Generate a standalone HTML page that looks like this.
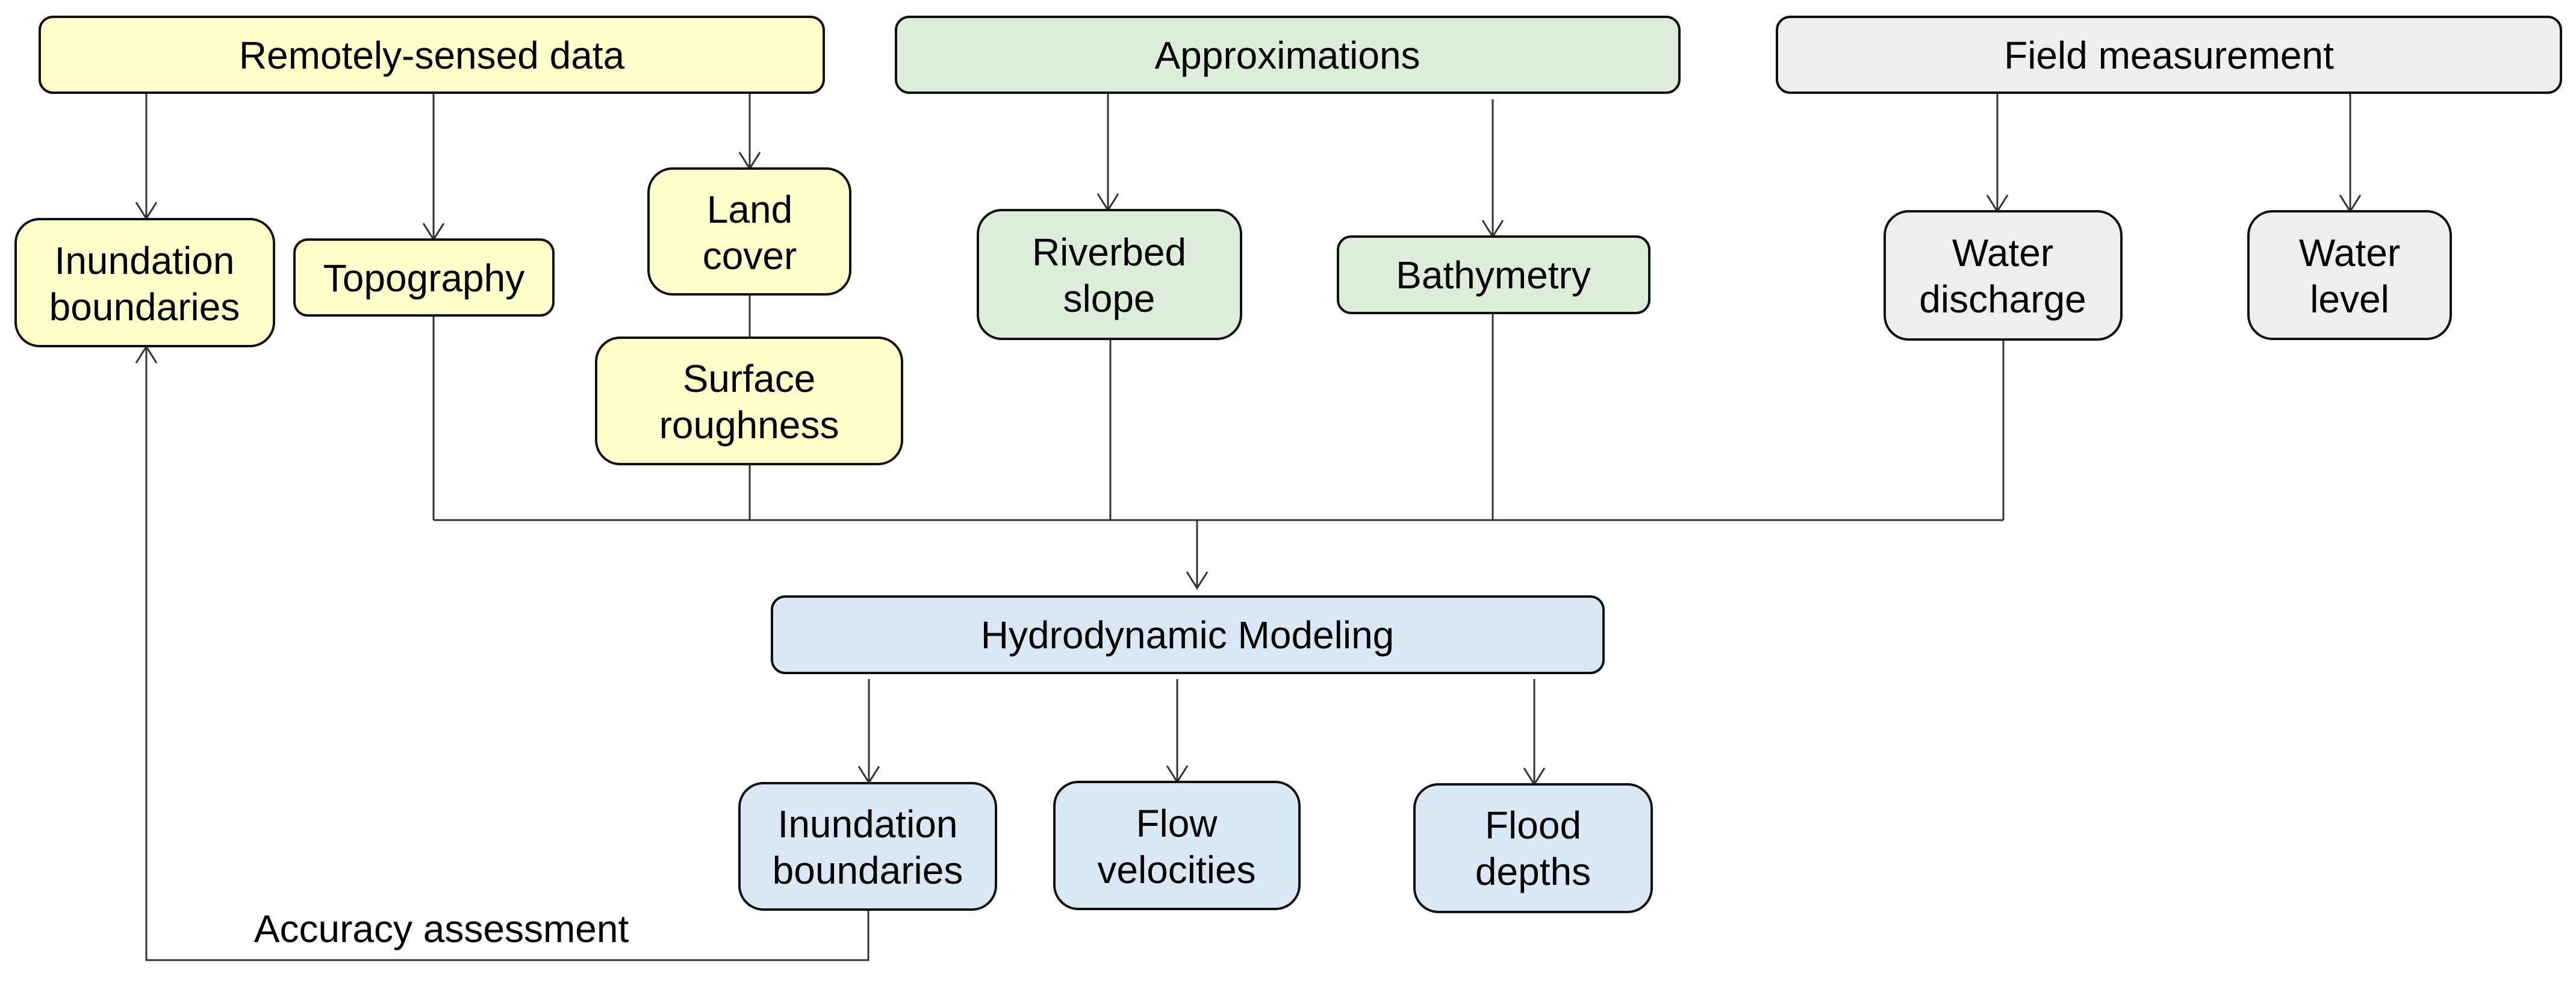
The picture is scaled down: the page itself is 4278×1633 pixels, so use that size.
<!DOCTYPE html>
<html><head><meta charset="utf-8">
<style>
html,body{margin:0;padding:0;background:#fff;}
svg{display:block;}
text{font-family:"Liberation Sans",Arial,sans-serif;font-size:64px;fill:#000;text-anchor:middle;}
</style></head>
<body>
<svg width="4278" height="1633" viewBox="0 0 4278 1633" xmlns="http://www.w3.org/2000/svg">
<defs>
<marker id="a" viewBox="0 0 40 40" refX="20" refY="38" markerWidth="40" markerHeight="40" markerUnits="userSpaceOnUse" orient="auto-start-reverse">
</marker>
</defs>
<g stroke="#333" stroke-width="3" fill="none">
<!-- top connectors -->
<line x1="243" y1="154" x2="243" y2="363"/>
<line x1="720" y1="154" x2="720" y2="398"/>
<line x1="1245" y1="154" x2="1245" y2="280"/>
<line x1="1840" y1="154" x2="1840" y2="349"/>
<line x1="2479" y1="165" x2="2479" y2="393"/>
<line x1="3317" y1="154" x2="3317" y2="351"/>
<line x1="3903" y1="154" x2="3903" y2="351"/>
<line x1="1245" y1="489" x2="1245" y2="561"/>
<!-- bus -->
<line x1="720" y1="524" x2="720" y2="864"/>
<line x1="1245" y1="771" x2="1245" y2="864"/>
<line x1="1844" y1="563" x2="1844" y2="864"/>
<line x1="2479" y1="520" x2="2479" y2="864"/>
<line x1="3327" y1="564" x2="3327" y2="864"/>
<line x1="720" y1="864" x2="3327" y2="864"/>
<line x1="1988" y1="864" x2="1988" y2="977"/>
<!-- lower -->
<line x1="1443" y1="1128" x2="1443" y2="1300"/>
<line x1="1955" y1="1128" x2="1955" y2="1299"/>
<line x1="2548" y1="1128" x2="2548" y2="1303"/>
<polyline points="1442,1511 1442,1595 243,1595 243,576"/>
<!-- arrowheads -->
<polyline points="226,336 243,363 260,336"/>
<polyline points="703,371 720,398 737,371"/>
<polyline points="1228,253 1245,280 1262,253"/>
<polyline points="1823,322 1840,349 1857,322"/>
<polyline points="2462,366 2479,393 2496,366"/>
<polyline points="3300,324 3317,351 3334,324"/>
<polyline points="3886,324 3903,351 3920,324"/>
<polyline points="1971,950 1988,977 2005,950"/>
<polyline points="1426,1273 1443,1300 1460,1273"/>
<polyline points="1938,1272 1955,1299 1972,1272"/>
<polyline points="2531,1276 2548,1303 2565,1276"/>
<polyline points="226,603 243,576 260,603"/>
</g>
<g stroke="#111" stroke-width="4">
<rect x="66" y="28" width="1302" height="126" rx="22" fill="#FFFFCC"/>
<rect x="1488" y="28" width="1301" height="126" rx="22" fill="#DDEEDA"/>
<rect x="2951" y="28" width="1302" height="126" rx="22" fill="#EEEEEE"/>
<rect x="26" y="364" width="429" height="211" rx="40" fill="#FFFFCC"/>
<rect x="489" y="398" width="430" height="126" rx="22" fill="#FFFFCC"/>
<rect x="1077" y="280" width="335" height="209" rx="40" fill="#FFFFCC"/>
<rect x="990" y="561" width="508" height="210" rx="40" fill="#FFFFCC"/>
<rect x="1624" y="349" width="437" height="214" rx="40" fill="#DDEEDA"/>
<rect x="2222" y="393" width="517" height="127" rx="22" fill="#DDEEDA"/>
<rect x="3130" y="351" width="393" height="213" rx="40" fill="#EEEEEE"/>
<rect x="3734" y="351" width="336" height="212" rx="40" fill="#EEEEEE"/>
<rect x="1282" y="991" width="1381" height="127" rx="22" fill="#DAE8F5"/>
<rect x="1228" y="1301" width="426" height="210" rx="40" fill="#DAE8F5"/>
<rect x="1751" y="1299" width="407" height="211" rx="40" fill="#DAE8F5"/>
<rect x="2349" y="1303" width="394" height="212" rx="40" fill="#DAE8F5"/>
</g>
<g>
<text x="717" y="114">Remotely-sensed data</text>
<text x="2138" y="114">Approximations</text>
<text x="3602" y="114">Field measurement</text>
<text x="240" y="455">Inundation</text><text x="240" y="532">boundaries</text>
<text x="704" y="484">Topography</text>
<text x="1245" y="370">Land</text><text x="1245" y="447">cover</text>
<text x="1244" y="651">Surface</text><text x="1244" y="728">roughness</text>
<text x="1842" y="441">Riverbed</text><text x="1842" y="518">slope</text>
<text x="2480" y="479">Bathymetry</text>
<text x="3326" y="442">Water</text><text x="3326" y="519">discharge</text>
<text x="3902" y="442">Water</text><text x="3902" y="519">level</text>
<text x="1972" y="1077">Hydrodynamic Modeling</text>
<text x="1441" y="1391">Inundation</text><text x="1441" y="1468">boundaries</text>
<text x="1954" y="1390">Flow</text><text x="1954" y="1467">velocities</text>
<text x="2546" y="1393">Flood</text><text x="2546" y="1470">depths</text>
<text x="733" y="1565">Accuracy assessment</text>
</g>
</svg>
</body></html>
